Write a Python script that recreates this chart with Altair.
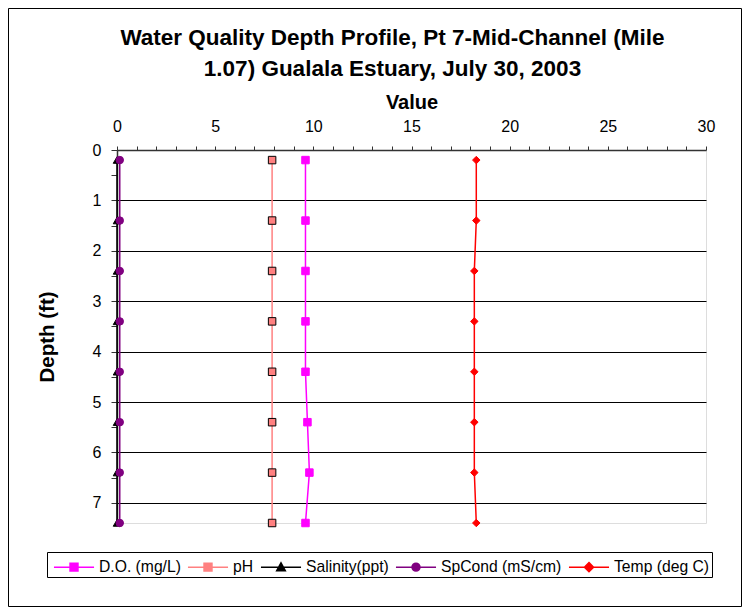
import altair as alt
import pandas as pd

# ---- data ----
depth = [0.2, 1.4, 2.4, 3.4, 4.4, 5.4, 6.4, 7.4]
do_mgl = [9.6, 9.6, 9.6, 9.6, 9.6, 9.7, 9.8, 9.6]
ph = [7.9, 7.9, 7.9, 7.9, 7.9, 7.9, 7.9, 7.9]
salinity = [0.0, 0.0, 0.0, 0.0, 0.0, 0.0, 0.0, 0.0]
spcond = [0.14, 0.14, 0.14, 0.14, 0.14, 0.14, 0.14, 0.14]
temp = [18.3, 18.3, 18.2, 18.2, 18.2, 18.2, 18.2, 18.3]

series_names = ["D.O. (mg/L)", "pH", "Salinity(ppt)", "SpCond (mS/cm)", "Temp (deg C)"]
series_values = [do_mgl, ph, salinity, spcond, temp]
line_colors = ["#FF00FF", "#FF8080", "#000000", "#800080", "#FF0000"]
edge_colors = ["#FF00FF", "#000000", "#000000", "#800080", "#FF0000"]
marker_shapes = ["square", "square", "triangle-up", "circle", "diamond"]
legend_shapes = [
    "M-1.67,0H1.67M-0.33,-0.33H0.33V0.33H-0.33Z",
    "M-1.67,0H1.67M-0.33,-0.33H0.33V0.33H-0.33Z",
    "M-1.67,0H1.67M0,-0.36L0.36,0.3H-0.36Z",
    "M-1.67,0H1.67M-0.33,0A0.33,0.33 0 1,0 0.33,0A0.33,0.33 0 1,0 -0.33,0Z",
    "M-1.67,0H1.67M0,-0.38L0.38,0L0,0.38L-0.38,0Z",
]
x_tick_values = [0, 1, 2, 3, 4, 5, 6, 7, 8, 9, 10, 11, 12, 13, 14, 15, 16, 17, 18, 19, 20,
                 21, 22, 23, 24, 25, 26, 27, 28, 29, 30]
y_tick_values = [0, 0.5, 1, 1.5, 2, 2.5, 3, 3.5, 4, 4.5, 5, 5.5, 6, 6.5, 7]

rows = []
for name, vals in zip(series_names, series_values):
    for d, v in zip(depth, vals):
        rows.append({"series": name, "depth": d, "value": v})
df = pd.DataFrame(rows)

FONT = "Liberation Sans"
PLOT_W, PLOT_H = 589, 373

x_axis = alt.Axis(
    orient="top", title="Value", values=x_tick_values, tickCount=31,
    labelExpr="datum.value % 5 === 0 ? format(datum.value, 'd') : ''",
    labelOverlap=False, labelBound=False, labelFlush=False,
    grid=False, tickSize=4, tickColor="#333333", tickWidth=1,
    domainColor="#333333", domainWidth=1.5,
    labelFont=FONT, labelFontSize=16, labelColor="#000000", labelPadding=12,
    titleFont=FONT, titleFontSize=20, titleFontWeight="bold", titleColor="#000000",
    titlePadding=6,
)
y_axis = alt.Axis(
    title="Depth (ft)", values=y_tick_values, tickCount=15,
    labelExpr="datum.value % 1 === 0 ? format(datum.value, 'd') : ''",
    labelOverlap=False, labelBound=False, labelFlush=False,
    grid=True, gridColor="#000000", gridWidth=1,
    gridOpacity={"condition": {"test": "datum.value % 1 === 0 && datum.value > 0", "value": 1}, "value": 0},
    tickSize=6, tickColor="#333333", domainColor="#333333", domainWidth=1.5,
    labelFont=FONT, labelFontSize=16, labelColor="#000000", labelPadding=10,
    titleFont=FONT, titleFontSize=20.5, titleFontWeight="bold", titleColor="#000000",
    titlePadding=35,
)
x_scale = alt.Scale(domain=[0, 30], nice=False)
y_scale = alt.Scale(domain=[0, 7.4], nice=False, reverse=True)

x_enc = alt.X("value:Q", scale=x_scale, axis=x_axis)
y_enc = alt.Y("depth:Q", scale=y_scale, axis=y_axis)

lines = alt.Chart(df).mark_line(strokeWidth=1.5).encode(
    x=x_enc, y=y_enc,
    color=alt.Color("series:N", scale=alt.Scale(domain=series_names, range=line_colors), legend=None),
    order=alt.Order("depth:Q"),
)

points = alt.Chart(df).mark_point(filled=True, opacity=1, strokeWidth=1, size=56).encode(
    x=x_enc, y=y_enc,
    fill=alt.Fill("series:N", scale=alt.Scale(domain=series_names, range=line_colors), legend=None),
    stroke=alt.Stroke("series:N", scale=alt.Scale(domain=series_names, range=edge_colors), legend=None),
    shape=alt.Shape("series:N", scale=alt.Scale(domain=series_names, range=marker_shapes), legend=None),
)

legend_kwargs = dict(
    title=None, orient="none", legendX=-70, legendY=402, direction="horizontal", columns=5,
    gridAlign="each", columnPadding=2, padding=2, strokeColor="#000000", fillColor="#FFFFFF",
    symbolSize=576, symbolStrokeWidth=1.5, symbolOffset=12, labelOffset=12,
    labelFont=FONT, labelFontSize=15.7, labelColor="#000000", labelLimit=300,
)

legend_layer = alt.Chart(df).transform_filter("false").mark_point(
    filled=True, opacity=1, strokeWidth=1.5
).encode(
    fill=alt.Fill("series:N", scale=alt.Scale(domain=series_names, range=line_colors),
                  legend=alt.Legend(**legend_kwargs)),
    stroke=alt.Stroke("series:N", scale=alt.Scale(domain=series_names, range=line_colors),
                      legend=alt.Legend(**legend_kwargs)),
    shape=alt.Shape("series:N", scale=alt.Scale(domain=series_names, range=legend_shapes),
                    legend=alt.Legend(**legend_kwargs)),
)

frame = alt.Chart(pd.DataFrame({"k": [0]})).mark_rect(
    fill="transparent", stroke="#000000", strokeWidth=1
).encode(
    x=alt.value(-108.5), x2=alt.value(624.5), y=alt.value(-141.5), y2=alt.value(456.5)
)

chart = alt.layer(lines, points, legend_layer, frame).resolve_scale(
    fill="independent", stroke="independent", shape="independent"
).properties(
    width=PLOT_W, height=PLOT_H,
    autosize=alt.AutoSizeParams(type="none"),
    padding={"left": 109, "top": 142, "right": 36, "bottom": 84},
    title=alt.TitleParams(
        text=["Water Quality Depth Profile, Pt 7-Mid-Channel (Mile", "1.07) Gualala Estuary, July 30, 2003"],
        font=FONT, fontSize=22.5, fontWeight="bold", color="#000000",
        anchor="middle", frame="group", dx=-19, lineHeight=31, offset=-72,
    ),
).configure_view(stroke="#808080", strokeWidth=1).configure(background="#FFFFFF")

chart.save("out.html", embed_options={"renderer": "svg", "actions": False})
